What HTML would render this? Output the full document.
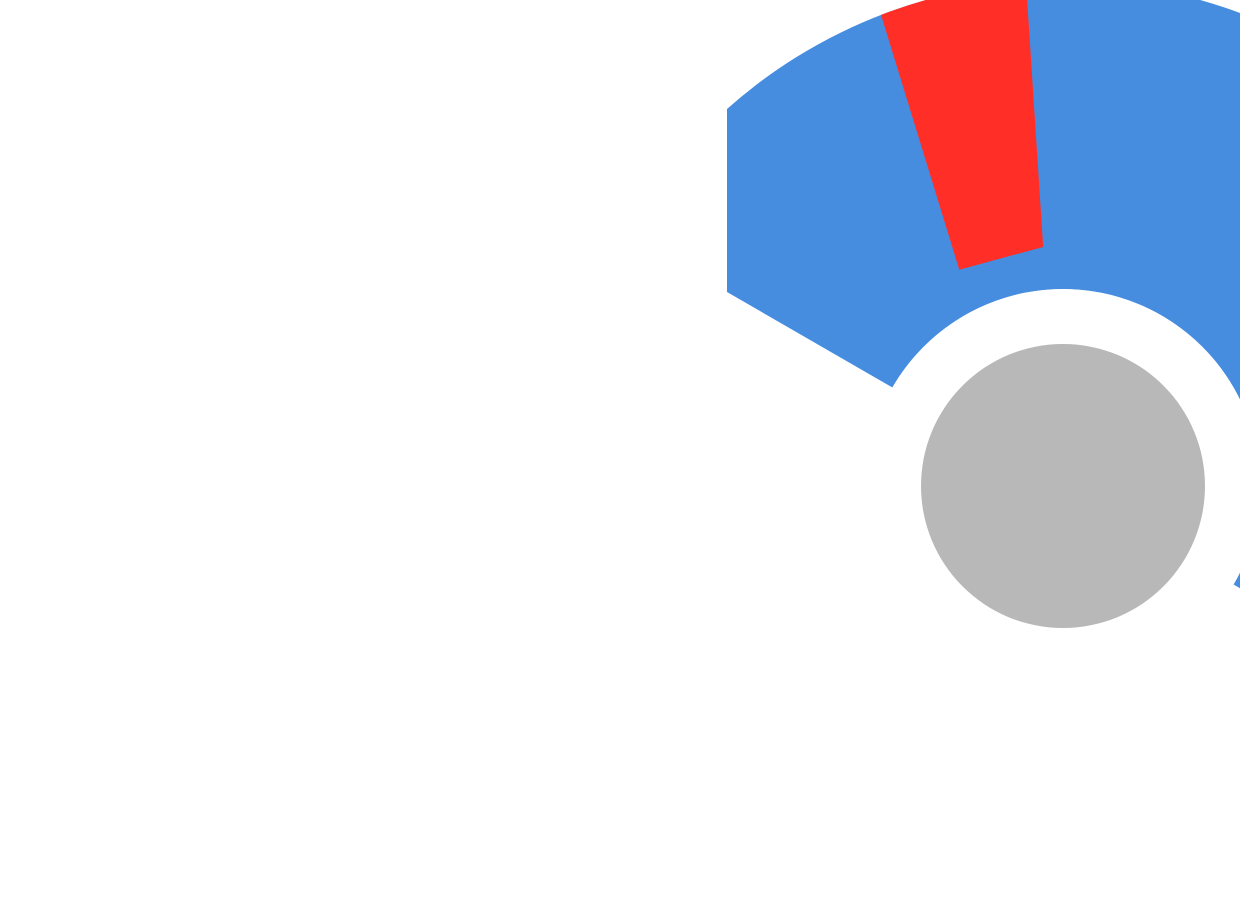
<!DOCTYPE html>
<html><head><meta charset="utf-8"><style>
html,body{margin:0;padding:0;background:#fff;width:1240px;height:900px;overflow:hidden;font-family:"Liberation Sans",sans-serif}
</style></head><body>
<svg id="chart" width="1240" height="900" viewBox="0 0 1240 900">
<defs><clipPath id="clip"><rect x="727" y="0" width="513" height="900"/></clipPath></defs>
<g id="plot" clip-path="url(#clip)"></g>
</svg>
<script>
const scaleRange = [0, 100];          // gauge min/max
const bandValues = [0, 100];          // blue band extent
const highlightOuter = [21.6, 31.0];  // red segment values at outer edge
const highlightInner = [19.1, 30.7];  // red segment values at inner edge
const highlightRadii = [0.475, 1.0];  // fraction of outer radius
const cx = 1063, cy = 486, R = 505, Rin = 197, Rhub = 142;
const a0 = 150, a1 = -30;
function ang(v){ return (a0 + (v - scaleRange[0]) / (scaleRange[1] - scaleRange[0]) * (a1 - a0)) * Math.PI / 180; }
function pt(r, v){ const a = ang(v); return [cx + r*Math.cos(a), cy - r*Math.sin(a)]; }
function sector(r0, r1, v0, v1){
  const p1 = pt(r1, v0), p2 = pt(r1, v1), p3 = pt(r0, v1), p4 = pt(r0, v0);
  const large = Math.abs(ang(v1) - ang(v0)) > Math.PI ? 1 : 0;
  return `M${p1} A${r1},${r1} 0 ${large} 1 ${p2} L${p3} A${r0},${r0} 0 ${large} 0 ${p4} Z`;
}
const NS = "http://www.w3.org/2000/svg";
const g = document.getElementById('plot');
const band = document.createElementNS(NS, 'path');
band.setAttribute('d', sector(Rin, R, bandValues[0], bandValues[1]));
band.setAttribute('fill', '#468ddf');


g.appendChild(band);
const hl = document.createElementNS(NS, 'path');
const ro = R*highlightRadii[1], ri = R*highlightRadii[0];
const o1 = pt(ro, highlightOuter[0]), o2 = pt(ro, highlightOuter[1]), i2 = pt(ri, highlightInner[1]), i1 = pt(ri, highlightInner[0]);
hl.setAttribute('d', `M${o1} A${ro},${ro} 0 0 1 ${o2} L${i2} L${i1} Z`);
hl.setAttribute('fill', '#ff2f28');


g.appendChild(hl);
const hole = document.createElementNS(NS, 'circle');
hole.setAttribute('cx', cx); hole.setAttribute('cy', cy); hole.setAttribute('r', Rin);
hole.setAttribute('fill', '#fff');


g.appendChild(hole);
const hub = document.createElementNS(NS, 'circle');
hub.setAttribute('cx', cx); hub.setAttribute('cy', cy); hub.setAttribute('r', Rhub);
hub.setAttribute('fill', '#b8b8b8');


g.appendChild(hub);
</script>
</body></html>
